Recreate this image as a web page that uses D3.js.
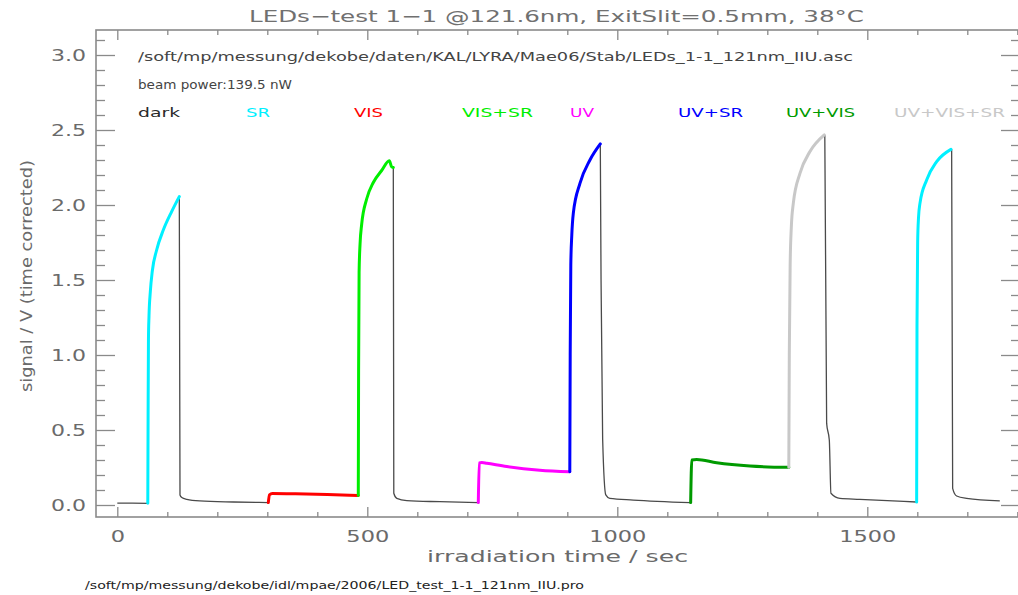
<!DOCTYPE html>
<html>
<head>
<meta charset="utf-8">
<script src="https://cdn.jsdelivr.net/npm/d3@7"></script>
<style>
  body { margin: 0; background: #fff; }
  svg { display: block; }
  text { font-family: "DejaVu Sans", "Liberation Sans", sans-serif; }
</style>
</head>
<body>
<svg id="chart" width="1018" height="595"></svg>
<script>
// Photodiode signal (V, time corrected) vs irradiation time (s), one array per measurement phase: [time, signal]
const dark0   = [[0,0.012],[30,0.012],[61,0.011]];
const sr1     = [[61,0.011],[61.6,0.6],[62.3,1.1],[63.4,1.26],[66,1.42],[70,1.56],[78.7,1.70],[92,1.833],[108.7,1.956],[124,2.056]];
const dark1   = [[124,2.056],[125.4,0.067],[129,0.05],[139,0.038],[165,0.027],[232,0.02],[302,0.016]];
const vis     = [[302,0.016],[304.5,0.068],[310,0.077],[350,0.075],[420,0.07],[482,0.064]];
const visSr   = [[482,0.064],[482.6,0.9],[483.6,1.55],[485.5,1.74],[488.7,1.87],[498.7,2.04],[512,2.15],[528.7,2.23],[544,2.295],[548.7,2.255],[552,2.25]];
const dark2   = [[552,2.25],[553,0.078],[559,0.044],[579,0.029],[645,0.022],[722,0.016]];
const uv      = [[722,0.016],[724,0.28],[729,0.283],[739,0.278],[779,0.256],[845,0.232],[905,0.222]];
const uvSr    = [[905,0.222],[905.8,1.0],[907,1.6],[909,1.8],[912,1.944],[925.3,2.144],[945.3,2.3],[966,2.407]];
const dark3   = [[966,2.407],[967.5,1.5],[970.7,0.44],[977,0.067],[985,0.044],[1032,0.033],[1146,0.016]];
const uvVis   = [[1146.7,0.016],[1149,0.3],[1158.7,0.304],[1198.7,0.282],[1265.3,0.26],[1343,0.251]];
const uvVisSr = [[1343,0.251],[1344,1.0],[1345.7,1.6],[1348,1.85],[1352,2.011],[1365.3,2.211],[1385.3,2.356],[1414,2.467]];
const dark4   = [[1415,2.467],[1418.7,0.544],[1424,0.433],[1427.3,0.078],[1445.3,0.044],[1485,0.038],[1598,0.02]];
const sr2     = [[1598.7,0.02],[1599.4,1.2],[1600.7,1.75],[1602.5,1.92],[1605.3,2.011],[1618.7,2.167],[1638.7,2.289],[1667.3,2.371]];
const dark5   = [[1668.7,2.371],[1670.7,0.111],[1678.7,0.06],[1698.7,0.044],[1765,0.027]];

// LED configurations and the phase sequence
const ledNames  = ["dark","SR","VIS","VIS+SR","UV","UV+SR","UV+VIS","UV+VIS+SR"];
const ledColors = ["#2a2a2a","#00f0ff","#ff0000","#00ee00","#ff00ff","#0000ff","#009a00","#c8c8c8"];
const phaseLeds = ["dark","SR","dark","VIS","VIS+SR","dark","UV","UV+SR","dark","UV+VIS","UV+VIS+SR","dark","SR","dark"];
const phaseData = [dark0, sr1, dark1, vis, visSr, dark2, uv, uvSr, dark3, uvVis, uvVisSr, dark4, sr2, dark5];

// Axis ticks
const xMajorTicks = [0, 500, 1000, 1500];
const xMinorTicks = d3.range(0, 1801, 100);
const yMajorTicks = [0.0, 0.5, 1.0, 1.5, 2.0, 2.5, 3.0];
const yMinorTicks = d3.range(0, 32).map(i => i / 10);

// Text
const titleText  = "LEDs\u2212test 1\u22121 @121.6nm, ExitSlit=0.5mm, 38\u00b0C";
const fileText   = "/soft/mp/messung/dekobe/daten/KAL/LYRA/Mae06/Stab/LEDs_1-1_121nm_IIU.asc";
const powerText  = "beam power:139.5 nW";
const xLabel     = "irradiation time / sec";
const yLabel     = "signal / V (time corrected)";
const footerText = "/soft/mp/messung/dekobe/idl/mpae/2006/LED_test_1-1_121nm_IIU.pro";

const svg = d3.select("#chart");
const plotLeft = 96, plotRight = 1020, plotTop = 30, plotBottom = 517;
const W = plotRight - plotLeft, H = plotBottom - plotTop;

const x = d3.scaleLinear().domain([-42.6, 1805.4]).range([plotLeft, plotRight]);
const y = d3.scaleLinear().domain([-0.08, 3.1667]).range([plotBottom, plotTop]);

const axisColor = "#8a8a8a";
const textColor = "#6a6a6a";

// Ticks (IDL style: inward on all four sides)
function drawAxis(gen, tx, ty) {
  const g = svg.append("g").attr("transform", `translate(${tx},${ty})`).call(gen);
  g.select(".domain").remove();
  g.selectAll("line").attr("stroke", axisColor).attr("stroke-width", 1.3);
  return g;
}
const xMajLen = 10, xMinLen = 5, yMajLen = 19, yMinLen = 9;
const isMajorY = v => yMajorTicks.some(m => Math.abs(m - v) < 1e-9);
const xMinorOnly = xMinorTicks.filter(v => !xMajorTicks.includes(v));
const yMinorOnly = yMinorTicks.filter(v => !isMajorY(v));

drawAxis(d3.axisBottom(x).tickValues(xMinorOnly).tickSize(-xMinLen).tickFormat(""), 0, plotBottom);
const xb = drawAxis(d3.axisBottom(x).tickValues(xMajorTicks).tickSize(-xMajLen).tickPadding(14).tickFormat(d3.format("d")), 0, plotBottom);
drawAxis(d3.axisTop(x).tickValues(xMinorOnly).tickSize(-xMinLen).tickFormat(""), 0, plotTop);
drawAxis(d3.axisTop(x).tickValues(xMajorTicks).tickSize(-xMajLen).tickFormat(""), 0, plotTop);

drawAxis(d3.axisLeft(y).tickValues(yMinorOnly).tickSize(-yMinLen).tickFormat(""), plotLeft, 0);
const yl = drawAxis(d3.axisLeft(y).tickValues(yMajorTicks).tickSize(-yMajLen).tickPadding(10).tickFormat(d3.format(".1f")), plotLeft, 0);
drawAxis(d3.axisRight(y).tickValues(yMinorOnly).tickSize(-yMinLen).tickFormat(""), plotRight, 0);
drawAxis(d3.axisRight(y).tickValues(yMajorTicks).tickSize(-yMajLen).tickFormat(""), plotRight, 0);

xb.selectAll("text")
  .attr("font-size", 15).attr("fill", textColor)
  .attr("font-family", "DejaVu Sans, sans-serif")
  .each(function(d) {
    const n = String(d).length;
    d3.select(this).attr("textLength", n * 14.3).attr("lengthAdjust", "spacingAndGlyphs");
  });
yl.selectAll("text")
  .attr("font-size", 16).attr("fill", textColor)
  .attr("font-family", "DejaVu Sans, sans-serif")
  .attr("textLength", 35).attr("lengthAdjust", "spacingAndGlyphs");

// Frame
svg.append("rect")
  .attr("x", plotLeft).attr("y", plotTop).attr("width", W).attr("height", H)
  .attr("fill", "none").attr("stroke", axisColor).attr("stroke-width", 1.6);

// Signal traces
const line = d3.line().x(d => x(d[0])).y(d => y(d[1])).curve(d3.curveMonotoneX);
const colorOf = name => ledColors[ledNames.indexOf(name)];

const traces = phaseData.map((pts, i) => ({ led: phaseLeds[i], pts }));
svg.append("g").selectAll("path")
  .data(traces.filter(t => t.led === "dark"))
  .join("path")
  .attr("d", t => line(t.pts))
  .attr("fill", "none").attr("stroke", "#4a4a4a").attr("stroke-width", 1.3);
svg.append("g").selectAll("path")
  .data(traces.filter(t => t.led !== "dark"))
  .join("path")
  .attr("d", t => line(t.pts))
  .attr("fill", "none").attr("stroke", t => colorOf(t.led))
  .attr("stroke-width", 3).attr("stroke-linejoin", "round").attr("stroke-linecap", "round");

// Title
svg.append("text")
  .attr("x", 249).attr("y", 22)
  .attr("font-size", 16).attr("fill", "#707070")
  .attr("textLength", 615).attr("lengthAdjust", "spacingAndGlyphs")
  .text(titleText);

// Annotations inside the plot
svg.append("text")
  .attr("x", 138).attr("y", 61)
  .attr("font-size", 13).attr("fill", "#444")
  .attr("textLength", 715).attr("lengthAdjust", "spacingAndGlyphs")
  .text(fileText);
svg.append("text")
  .attr("x", 138).attr("y", 89)
  .attr("font-size", 13).attr("fill", "#444")
  .attr("textLength", 154).attr("lengthAdjust", "spacingAndGlyphs")
  .text(powerText);

// LED legend row
const legendWidths = [42, 24, 29, 71, 24, 65, 69, 111];
svg.append("g").selectAll("text")
  .data(ledNames)
  .join("text")
  .attr("x", (d, i) => 138 + i * 108)
  .attr("y", 117)
  .attr("font-size", 13)
  .attr("fill", d => colorOf(d))
  .attr("textLength", (d, i) => legendWidths[i]).attr("lengthAdjust", "spacingAndGlyphs")
  .text(d => d);

// Axis titles
svg.append("text")
  .attr("x", 427).attr("y", 562)
  .attr("font-size", 16).attr("fill", textColor)
  .attr("textLength", 261).attr("lengthAdjust", "spacingAndGlyphs")
  .text(xLabel);
svg.append("text")
  .attr("transform", "translate(32,392) rotate(-90)")
  .attr("font-size", 16).attr("fill", textColor)
  .attr("textLength", 232).attr("lengthAdjust", "spacingAndGlyphs")
  .text(yLabel);

// Footer with source program
svg.append("text")
  .attr("x", 85).attr("y", 589)
  .attr("font-size", 10).attr("fill", "#222")
  .attr("textLength", 499).attr("lengthAdjust", "spacingAndGlyphs")
  .text(footerText);
</script>
</body>
</html>
